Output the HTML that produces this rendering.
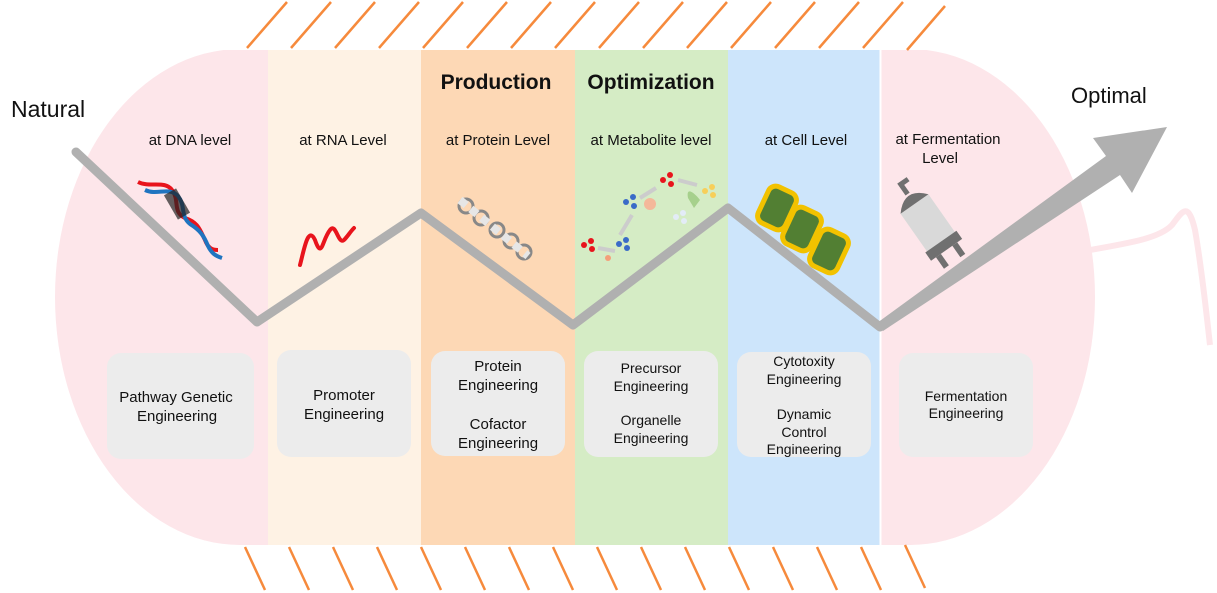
<!DOCTYPE html>
<html><head><meta charset="utf-8"><style>
html,body{margin:0;padding:0;background:#fff;}
svg{display:block;}
text{font-family:"Liberation Sans",sans-serif;}
</style></head><body>
<svg width="1217" height="593" viewBox="0 0 1217 593" xmlns="http://www.w3.org/2000/svg">
<defs>
<clipPath id="lc"><rect x="0" y="50" width="268" height="495"/></clipPath>
<clipPath id="rc"><rect x="880" y="50" width="337" height="495"/></clipPath>
</defs>
<path d="M1090 250 C1130 243 1160 238 1172 225 C1182 212 1188 200 1195 230 C1202 270 1206 310 1210 345" fill="none" stroke="#fde6ea" stroke-width="6"/>
<ellipse cx="240" cy="297" rx="185" ry="248" fill="#fde6ea" clip-path="url(#lc)"/>
<rect x="240" y="50" width="30" height="495" fill="#fde6ea"/>
<ellipse cx="910" cy="297" rx="185" ry="248" fill="#fde6ea" clip-path="url(#rc)"/>
<rect x="880" y="50" width="30" height="495" fill="#fde6ea"/>
<rect x="268" y="50" width="153" height="495" fill="#fef2e4"/>
<rect x="421" y="50" width="154" height="495" fill="#fdd8b5"/>
<rect x="575" y="50" width="153" height="495" fill="#d5ecc5"/>
<rect x="728" y="50" width="152" height="495" fill="#cde5fb"/>
<line x1="880.5" y1="50" x2="880.5" y2="545" stroke="#fff" stroke-width="2"/>
<g stroke="#f68a3c" stroke-width="2.5">
<line x1="247" y1="48" x2="287" y2="2"/><line x1="291" y1="48" x2="331" y2="2"/><line x1="335" y1="48" x2="375" y2="2"/><line x1="379" y1="48" x2="419" y2="2"/>
<line x1="423" y1="48" x2="463" y2="2"/><line x1="467" y1="48" x2="507" y2="2"/><line x1="511" y1="48" x2="551" y2="2"/><line x1="555" y1="48" x2="595" y2="2"/>
<line x1="599" y1="48" x2="639" y2="2"/><line x1="643" y1="48" x2="683" y2="2"/><line x1="687" y1="48" x2="727" y2="2"/><line x1="731" y1="48" x2="771" y2="2"/>
<line x1="775" y1="48" x2="815" y2="2"/><line x1="819" y1="48" x2="859" y2="2"/><line x1="863" y1="48" x2="903" y2="2"/><line x1="907" y1="50" x2="945" y2="6"/>
<line x1="245" y1="547" x2="265" y2="590"/><line x1="289" y1="547" x2="309" y2="590"/><line x1="333" y1="547" x2="353" y2="590"/><line x1="377" y1="547" x2="397" y2="590"/>
<line x1="421" y1="547" x2="441" y2="590"/><line x1="465" y1="547" x2="485" y2="590"/><line x1="509" y1="547" x2="529" y2="590"/><line x1="553" y1="547" x2="573" y2="590"/>
<line x1="597" y1="547" x2="617" y2="590"/><line x1="641" y1="547" x2="661" y2="590"/><line x1="685" y1="547" x2="705" y2="590"/><line x1="729" y1="547" x2="749" y2="590"/>
<line x1="773" y1="547" x2="793" y2="590"/><line x1="817" y1="547" x2="837" y2="590"/><line x1="861" y1="547" x2="881" y2="590"/><line x1="905" y1="545" x2="925" y2="588"/>
</g>
<polyline points="76,152 257,322 421,213 573,325 728,208 880,327" fill="none" stroke="#b0b0b0" stroke-width="9" stroke-linejoin="round" stroke-linecap="round"/>
<polygon points="877,323 1106,156 1093,138 1167,127 1132,193 1120,175 883,331" fill="#b0b0b0"/>
<!-- DNA -->
<path d="M138 182 C150 188 165 180 172 190 C180 200 172 212 185 218 C198 222 200 230 205 240 C208 248 212 250 218 250" fill="none" stroke="#e8141c" stroke-width="4"/>
<path d="M145 190 C158 196 168 186 178 196 C186 206 180 216 190 224 C200 230 204 236 208 246 C212 254 216 256 222 258" fill="none" stroke="#1f74c0" stroke-width="4"/>
<rect x="170" y="190" width="14" height="28" fill="#222" opacity="0.7" transform="rotate(-30 177 204)"/>
<!-- RNA -->
<path d="M300 265 C304 250 308 225 315 240 C322 260 322 240 330 230 C336 222 338 245 344 240 C348 236 350 232 354 228" fill="none" stroke="#e8141c" stroke-width="4" stroke-linecap="round"/>
<!-- protein -->
<g stroke="#888" stroke-width="3" fill="none">
<circle cx="466" cy="206" r="7"/><circle cx="481" cy="218" r="7"/><circle cx="497" cy="230" r="7"/><circle cx="511" cy="241" r="7"/><circle cx="524" cy="252" r="7"/>
</g>
<line x1="460" y1="200" x2="528" y2="256" stroke="#e6e6e6" stroke-width="8" stroke-dasharray="8 6"/>
<!-- metabolite -->
<g>
<circle cx="584" cy="245" r="3" fill="#e8141c"/><circle cx="591" cy="241" r="3" fill="#e8141c"/><circle cx="592" cy="249" r="3" fill="#e8141c"/>
<line x1="598" y1="248" x2="615" y2="251" stroke="#ccc" stroke-width="4"/>
<circle cx="619" cy="244" r="3" fill="#3a6bc8"/><circle cx="626" cy="240" r="3" fill="#3a6bc8"/><circle cx="627" cy="248" r="3" fill="#3a6bc8"/>
<line x1="620" y1="235" x2="632" y2="215" stroke="#ccc" stroke-width="4"/>
<circle cx="626" cy="202" r="3" fill="#3a6bc8"/><circle cx="633" cy="197" r="3" fill="#3a6bc8"/><circle cx="634" cy="206" r="3" fill="#3a6bc8"/>
<circle cx="650" cy="204" r="6" fill="#f4b89a"/>
<line x1="640" y1="198" x2="656" y2="188" stroke="#ccc" stroke-width="4"/>
<circle cx="663" cy="180" r="3" fill="#e8141c"/><circle cx="670" cy="175" r="3" fill="#e8141c"/><circle cx="671" cy="184" r="3" fill="#e8141c"/>
<line x1="678" y1="180" x2="697" y2="185" stroke="#ccc" stroke-width="4"/>
<path d="M688 198 C686 188 692 190 700 200 L694 208 Z" fill="#a6d08c"/>
<circle cx="705" cy="191" r="3" fill="#f7cf5a"/><circle cx="712" cy="187" r="3" fill="#f7cf5a"/><circle cx="713" cy="195" r="3" fill="#f7cf5a"/>
<circle cx="676" cy="217" r="3" fill="#e3ecf7"/><circle cx="683" cy="213" r="3" fill="#e3ecf7"/><circle cx="684" cy="221" r="3" fill="#e3ecf7"/>
<circle cx="608" cy="258" r="3" fill="#f4a07a"/>
</g>
<!-- cells -->
<g stroke="#f2c200" stroke-width="5" fill="#527f33">
<rect x="762" y="188" width="30" height="40" rx="8" transform="rotate(25 777 208)"/>
<rect x="787" y="209" width="30" height="40" rx="8" transform="rotate(25 802 229)"/>
<rect x="814" y="231" width="30" height="40" rx="8" transform="rotate(25 829 251)"/>
</g>
<!-- fermenter -->
<g transform="rotate(-35 928 225)">
<rect x="912" y="200" width="34" height="48" fill="#d9d9d9"/>
<path d="M912 200 Q929 180 946 200 Z" fill="#707070"/>
<rect x="910" y="246" width="38" height="10" fill="#707070"/>
<rect x="916" y="256" width="6" height="14" fill="#707070"/><rect x="936" y="256" width="6" height="14" fill="#707070"/>
<path d="M929 188 L929 176 L938 176" fill="none" stroke="#707070" stroke-width="5"/>
</g>
<g fill="#ececec">
<rect x="107" y="353" width="147" height="106" rx="14"/>
<rect x="277" y="350" width="134" height="107" rx="14"/>
<rect x="431" y="351" width="134" height="105" rx="14"/>
<rect x="584" y="351" width="134" height="106" rx="14"/>
<rect x="737" y="352" width="134" height="105" rx="14"/>
<rect x="899" y="353" width="134" height="104" rx="14"/>
</g>
<g font-size="15" fill="#111" text-anchor="middle">
<text x="176" y="402">Pathway Genetic</text><text x="177" y="421">Engineering</text>
<text x="344" y="400">Promoter</text><text x="344" y="419">Engineering</text>
<text x="498" y="371">Protein</text><text x="498" y="390">Engineering</text>
<text x="498" y="429">Cofactor</text><text x="498" y="448">Engineering</text>
<text x="651" y="373" font-size="14">Precursor</text><text x="651" y="391" font-size="14">Engineering</text>
<text x="651" y="425" font-size="14">Organelle</text><text x="651" y="443" font-size="14">Engineering</text>
<text x="804" y="366" font-size="14">Cytotoxity</text><text x="804" y="384" font-size="14">Engineering</text>
<text x="804" y="419" font-size="14">Dynamic</text><text x="804" y="437" font-size="14">Control</text><text x="804" y="454" font-size="14">Engineering</text>
<text x="966" y="401" font-size="14">Fermentation</text><text x="966" y="418" font-size="14">Engineering</text>
<text x="190" y="145">at DNA level</text>
<text x="343" y="145">at RNA Level</text>
<text x="498" y="145">at Protein Level</text>
<text x="651" y="145">at Metabolite level</text>
<text x="806" y="145">at Cell Level</text>
<text x="948" y="144">at Fermentation</text><text x="940" y="163">Level</text>
</g>
<text x="11" y="117" font-size="23" fill="#111">Natural</text>
<text x="1071" y="103" font-size="22" fill="#111">Optimal</text>
<text x="496" y="89" font-size="21" font-weight="bold" fill="#111" text-anchor="middle">Production</text>
<text x="651" y="89" font-size="21" font-weight="bold" fill="#111" text-anchor="middle">Optimization</text>
</svg>
</body></html>
